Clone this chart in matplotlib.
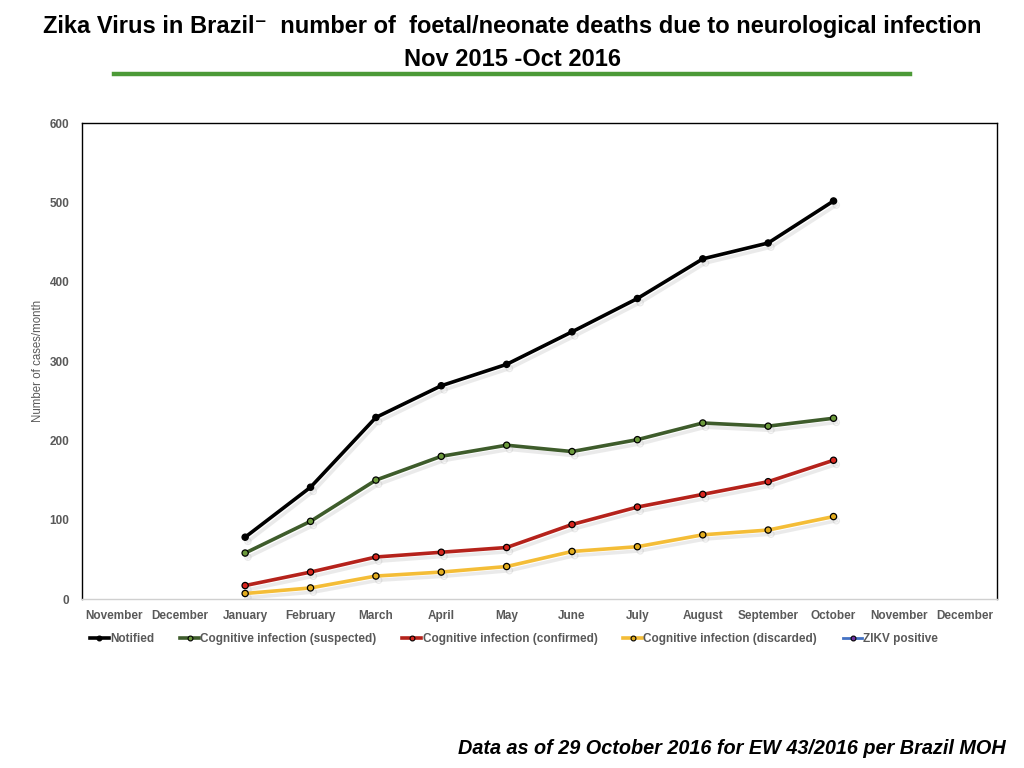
import matplotlib
matplotlib.use("Agg")
import matplotlib.pyplot as plt
import matplotlib.patheffects as pe
from matplotlib.lines import Line2D
import numpy as np

months = ["November", "December", "January", "February", "March", "April", "May",
          "June", "July", "August", "September", "October", "November", "December"]
data_months = ["January", "February", "March", "April", "May", "June", "July",
               "August", "September", "October"]
notified = [78, 141, 229, 269, 296, 337, 379, 429, 449, 502]
suspected = [58, 98, 150, 180, 194, 186, 201, 222, 218, 228]
confirmed = [17, 34, 53, 59, 65, 94, 116, 132, 148, 175]
discarded = [7, 14, 29, 34, 41, 60, 66, 81, 87, 104]
zikv_positive = []

series = [
    ("Notified", notified, "#000000", "#000000"),
    ("Cognitive infection (suspected)", suspected, "#3e5c2b", "#6c9a3c"),
    ("Cognitive infection (confirmed)", confirmed, "#b5221b", "#d9261e"),
    ("Cognitive infection (discarded)", discarded, "#f4bd37", "#e3ad1f"),
]

plt.rcParams['font.family'] = ['Liberation Sans', 'DejaVu Sans']

fig = plt.figure(figsize=(10.24, 7.68), dpi=100)
ax = fig.add_axes([0.0798, 0.22, 0.8938, 0.6195])

offset = 2  # January is index 2 among 14 categories
x = np.arange(len(data_months)) + offset

for name, vals, lc, mfc in series:
    ax.plot(x, vals, color=lc, lw=2.6, marker='o', ms=4.5, mfc=mfc, mec='black',
            mew=0.9, zorder=3,
            path_effects=[pe.SimpleLineShadow(offset=(2, -3), shadow_color='#999999', alpha=0.2),
                          pe.Normal()])

ax.set_xlim(-0.5, len(months) - 0.5)
ax.set_ylim(0, 600)
ax.set_xticks(np.arange(len(months)))
ax.set_xticklabels(months)
ax.set_yticks(np.arange(0, 601, 100))
ax.tick_params(axis='both', length=0, labelsize=8.5, labelcolor='#595959', pad=8)
for lab in ax.get_xticklabels() + ax.get_yticklabels():
    lab.set_fontweight('bold')
ax.tick_params(axis='y', pad=9)
for s in ['left', 'top', 'right']:
    ax.spines[s].set_color('black')
    ax.spines[s].set_linewidth(1.0)
ax.spines['bottom'].set_color('#d0d0d0')
ax.spines['bottom'].set_linewidth(1.0)
ax.set_ylabel("Number of cases/month", fontsize=8.3, color='#595959')
ax.yaxis.set_label_coords(-0.041, 0.5)

handles = []
for name, vals, lc, mfc in series:
    handles.append(Line2D([0], [0], color=lc, lw=2.6, marker='o', ms=3.5, mfc=mfc, mec='black', mew=0.8))
handles.append(Line2D([0], [0], color='#4472c4', lw=2.0, marker='o', ms=3.5, mfc='#7030a0', mec='black', mew=0.8))
labels = [s[0] for s in series] + ["ZIKV positive"]
leg = fig.legend(handles, labels, loc='center', bbox_to_anchor=(0.502, 0.168), ncol=5,
                 frameon=False, fontsize=8.5, handlelength=1.6, handletextpad=0.1,
                 columnspacing=2.2)
for t in leg.get_texts():
    t.set_color('#595959')
    t.set_fontweight('bold')

title_font = ['Liberation Sans Narrow', 'Liberation Sans', 'DejaVu Sans']
fig.text(0.5, 0.966, "Zika Virus in Brazil\u207b  number of  foetal/neonate deaths due to neurological infection",
         ha='center', va='center', fontsize=17, fontweight='bold', family=title_font)
fig.text(0.5, 0.923, "Nov 2015 -Oct 2016", ha='center', va='center', fontsize=17,
         fontweight='bold', family=title_font)
fig.add_artist(Line2D([114 / 1024, 910 / 1024], [1 - 74 / 768, 1 - 74 / 768],
                      color='#4c9a37', lw=3.2, transform=fig.transFigure))

fig.text(0.982, 0.026, "Data as of 29 October 2016 for EW 43/2016 per Brazil MOH",
         ha='right', va='center', fontsize=14.3, fontweight='bold', style='italic')

fig.savefig("out.png", dpi=100)
